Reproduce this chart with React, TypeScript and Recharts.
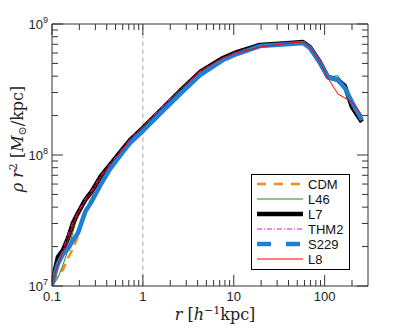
import { LineChart, Line, XAxis, YAxis, ReferenceLine, Legend } from "recharts";

// radius in h^-1 kpc, density profiles rho r^2 in Msun/kpc
const radius = [
  0.1, 0.108, 0.116, 0.132, 0.15, 0.17, 0.193, 0.231, 0.275, 0.346, 0.434, 0.589, 0.721, 1.0, 1.66,
  2.56, 4.25, 7.6, 10.8, 19.4, 41.5, 57.7, 68.9, 88.7, 108.6, 140, 167, 200, 257,
];

const cdm = [
  1.05e7, 1.13e7, 1.21e7, 1.33e7, 1.64e7, 1.92e7, 2.41e7, 3.8e7, 4.69e7, 6.44e7, 8.1e7, 1.05e8, 1.26e8,
  1.55e8, 2.21e8, 2.97e8, 4.15e8, 5.41e8, 6.01e8, 6.92e8, 7.16e8, 7.29e8, 6.67e8, 5.13e8, 3.94e8, 3.74e8,
  3.3e8, 2.45e8, 1.82e8,
];
const l46 = [
  1.02e7, 1.07e7, 1.15e7, 1.45e7, 1.88e7, 2.58e7, 3.48e7, 4.53e7, 5.31e7, 6.91e7, 8.39e7, 1.092e8, 1.3e8,
  1.61e8, 2.28e8, 3.08e8, 4.3e8, 5.5e8, 6.11e8, 6.92e8, 7.16e8, 7.35e8, 6.67e8, 5.13e8, 3.94e8, 4.03e8,
  3.36e8, 2.32e8, 1.79e8,
];
const l7 = [
  1.04e7, 1.33e7, 1.66e7, 1.88e7, 2.32e7, 3.03e7, 3.61e7, 4.53e7, 5.31e7, 6.91e7, 8.39e7, 1.092e8, 1.3e8,
  1.61e8, 2.28e8, 3.08e8, 4.3e8, 5.5e8, 6.11e8, 6.92e8, 7.16e8, 7.29e8, 6.67e8, 5.13e8, 3.94e8, 3.74e8,
  3.36e8, 2.32e8, 1.79e8,
];
const thm2 = [
  1.04e7, 1.28e7, 1.52e7, 1.88e7, 2.45e7, 3.08e7, 3.67e7, 4.61e7, 5.4e7, 7.03e7, 8.53e7, 1.108e8, 1.325e8,
  1.64e8, 2.37e8, 3.14e8, 4.3e8, 5.5e8, 6.11e8, 6.92e8, 7.16e8, 7.29e8, 6.67e8, 5.13e8, 3.94e8, 3.74e8,
  3.36e8, 2.32e8, 1.79e8,
];
const s229 = [
  1.02e7, 1.24e7, 1.47e7, 1.75e7, 1.92e7, 2.24e7, 2.54e7, 3.66e7, 4.45e7, 6.0e7, 7.81e7, 1.032e8, 1.235e8,
  1.525e8, 2.17e8, 2.92e8, 4.08e8, 5.31e8, 5.9e8, 6.79e8, 7.04e8, 7.16e8, 6.56e8, 5.04e8, 3.94e8, 3.74e8,
  3.25e8, 2.54e8, 1.85e8,
];
const l8 = [
  1.04e7, 1.26e7, 1.45e7, 1.82e7, 2.24e7, 2.92e7, 3.61e7, 4.45e7, 5.22e7, 6.79e7, 8.39e7, 1.088e8, 1.3e8,
  1.64e8, 2.32e8, 3.14e8, 4.38e8, 5.5e8, 6.01e8, 6.67e8, 7.16e8, 7.29e8, 6.67e8, 5.13e8, 3.87e8, 2.92e8,
  2.72e8, 2.54e8, 2.02e8,
];

const xTicks = [
  0.1, 0.2, 0.3, 0.4, 0.5, 0.6, 0.7, 0.8, 0.9, 1, 2, 3, 4, 5, 6, 7, 8, 9, 10, 20, 30, 40, 50, 60, 70, 80, 90,
  100, 200,
];
const xMajor = [0.1, 1, 10, 100];
const yTicks = [
  1e7, 2e7, 3e7, 4e7, 5e7, 6e7, 7e7, 8e7, 9e7, 1e8, 2e8, 3e8, 4e8, 5e8, 6e8, 7e8, 8e8, 9e8, 1e9,
];
const yMajor = [1e7, 1e8, 1e9];

const series = [
  { key: "cdm", name: "CDM", color: "#f28a1e", width: 2.5, dash: "9 6", legendDash: "9 8" },
  { key: "l46", name: "L46", color: "#1f8a1f", width: 1 },
  { key: "l7", name: "L7", color: "#000000", width: 4.5 },
  { key: "thm2", name: "THM2", color: "#cc22cc", width: 1, dash: "5 2 1 2", legendDash: "5 2 1 2" },
  { key: "s229", name: "S229", color: "#1f7fd4", width: 4.5, legendDash: "14 15" },
  { key: "l8", name: "L8", color: "#ff0000", width: 1 },
];

const data = radius.map((r, i) => ({
  r,
  cdm: cdm[i],
  l46: l46[i],
  l7: l7[i],
  thm2: thm2[i],
  s229: s229[i],
  l8: l8[i],
}));

const AXIS = "#333";
const SANS = "'Liberation Sans', Arial, sans-serif";
const SERIF = "'DejaVu Serif', 'Liberation Serif', serif";
const MAJOR = 11;
const MINOR = 6;

function BottomTick({ x, y, payload }: any) {
  const major = xMajor.includes(payload.value);
  return (
    <g>
      <line x1={x} x2={x} y1={y} y2={y - (major ? MAJOR : MINOR)} stroke={AXIS} />
      {major && (
        <text x={x} y={y + 15} textAnchor="middle" fontSize={13} fontFamily={SANS} fill="#222">
          {String(payload.value)}
        </text>
      )}
    </g>
  );
}

function TopTick({ x, y, payload }: any) {
  const major = xMajor.includes(payload.value);
  return <line x1={x} x2={x} y1={y} y2={y + (major ? MAJOR : MINOR)} stroke={AXIS} />;
}

function LeftTick({ x, y, payload }: any) {
  const major = yMajor.includes(payload.value);
  return (
    <g>
      <line x1={x} x2={x + (major ? MAJOR : MINOR)} y1={y} y2={y} stroke={AXIS} />
      {major && (
        <text x={x - 4} y={y + 5} textAnchor="end" fontSize={13} fontFamily={SANS} fill="#222">
          <tspan>10</tspan>
          <tspan dy={-6} fontSize={9}>
            {Math.round(Math.log10(payload.value))}
          </tspan>
        </text>
      )}
    </g>
  );
}

function RightTick({ x, y, payload }: any) {
  const major = yMajor.includes(payload.value);
  return <line x1={x} x2={x - (major ? MAJOR : MINOR)} y1={y} y2={y} stroke={AXIS} />;
}

function XTitle() {
  return (
    <text x={215} y={320} textAnchor="middle" fontSize={16} fontFamily={SERIF} fill="#222">
      <tspan fontStyle="italic">r</tspan>
      <tspan> [</tspan>
      <tspan fontStyle="italic">h</tspan>
      <tspan dy={-6} fontSize={11}>
        −1
      </tspan>
      <tspan dy={6}>kpc]</tspan>
    </text>
  );
}

function YTitle() {
  return (
    <text
      x={23}
      y={139}
      transform="rotate(-90, 23, 139)"
      textAnchor="middle"
      fontSize={16}
      fontFamily={SERIF}
      fill="#222"
    >
      <tspan fontStyle="italic">ρ r</tspan>
      <tspan dy={-6} fontSize={11}>
        2
      </tspan>
      <tspan dy={6}> [</tspan>
      <tspan fontStyle="italic">M</tspan>
      <tspan dy={3} fontSize={11}>
        ⊙
      </tspan>
      <tspan dy={-3}>/kpc]</tspan>
    </text>
  );
}

function LegendBox() {
  return (
    <svg width={99} height={96} style={{ display: "block" }}>
      <rect x={0.5} y={0.5} width={98} height={95} fill="#fff" stroke="#000" />
      {series.map((s, i) => {
        const cy = 10 + i * 15;
        return (
          <g key={s.key}>
            <line
              x1={6}
              x2={52}
              y1={cy}
              y2={cy}
              stroke={s.color}
              strokeWidth={s.width}
              strokeDasharray={s.legendDash}
            />
            <text x={57} y={cy + 4.5} fontSize={13} fontFamily={SANS} fill="#111">
              {s.name}
            </text>
          </g>
        );
      })}
    </svg>
  );
}

export default function App() {
  return (
    <div style={{ position: "absolute", left: 0, top: 0, background: "#fff" }}>
      <LineChart
        width={407}
        height={328}
        data={data}
        margin={{ top: 23, right: 38, bottom: 41, left: 51 }}
      >
        <XAxis
          xAxisId="bottom"
          dataKey="r"
          type="number"
          scale="log"
          domain={[0.1, 300]}
          allowDataOverflow
          ticks={xTicks}
          interval={0}
          height={1}
          tickSize={0}
          tickMargin={0}
          tickLine={false}
          axisLine={{ stroke: AXIS }}
          tick={<BottomTick />}
          label={{ content: () => <XTitle /> }}
        />
        <XAxis
          xAxisId="top"
          orientation="top"
          dataKey="r"
          type="number"
          scale="log"
          domain={[0.1, 300]}
          allowDataOverflow
          ticks={xTicks}
          interval={0}
          height={1}
          tickSize={0}
          tickMargin={0}
          tickLine={false}
          axisLine={{ stroke: AXIS }}
          tick={<TopTick />}
        />
        <YAxis
          yAxisId="left"
          type="number"
          scale="log"
          domain={[1e7, 1e9]}
          allowDataOverflow
          ticks={yTicks}
          interval={0}
          width={1}
          tickSize={0}
          tickMargin={0}
          tickLine={false}
          axisLine={{ stroke: AXIS }}
          tick={<LeftTick />}
          label={{ content: () => <YTitle /> }}
        />
        <YAxis
          yAxisId="right"
          orientation="right"
          type="number"
          scale="log"
          domain={[1e7, 1e9]}
          allowDataOverflow
          ticks={yTicks}
          interval={0}
          width={1}
          tickSize={0}
          tickMargin={0}
          tickLine={false}
          axisLine={{ stroke: AXIS }}
          tick={<RightTick />}
        />
        <ReferenceLine
          x={1}
          xAxisId="bottom"
          yAxisId="left"
          stroke="#999"
          strokeWidth={0.8}
          strokeDasharray="5 3"
        />
        {series.map((s) => (
          <Line
            key={s.key}
            xAxisId="bottom"
            yAxisId="left"
            type="linear"
            dataKey={s.key}
            name={s.name}
            stroke={s.color}
            strokeWidth={s.width}
            strokeDasharray={s.dash}
            strokeLinejoin="round"
            dot={false}
            activeDot={false}
            isAnimationActive={false}
          />
        ))}
        <Legend
          layout="vertical"
          align="center"
          verticalAlign="middle"
          wrapperStyle={{ left: 251, top: 174, width: 99, height: 96 }}
          content={() => <LegendBox />}
        />
      </LineChart>
    </div>
  );
}
